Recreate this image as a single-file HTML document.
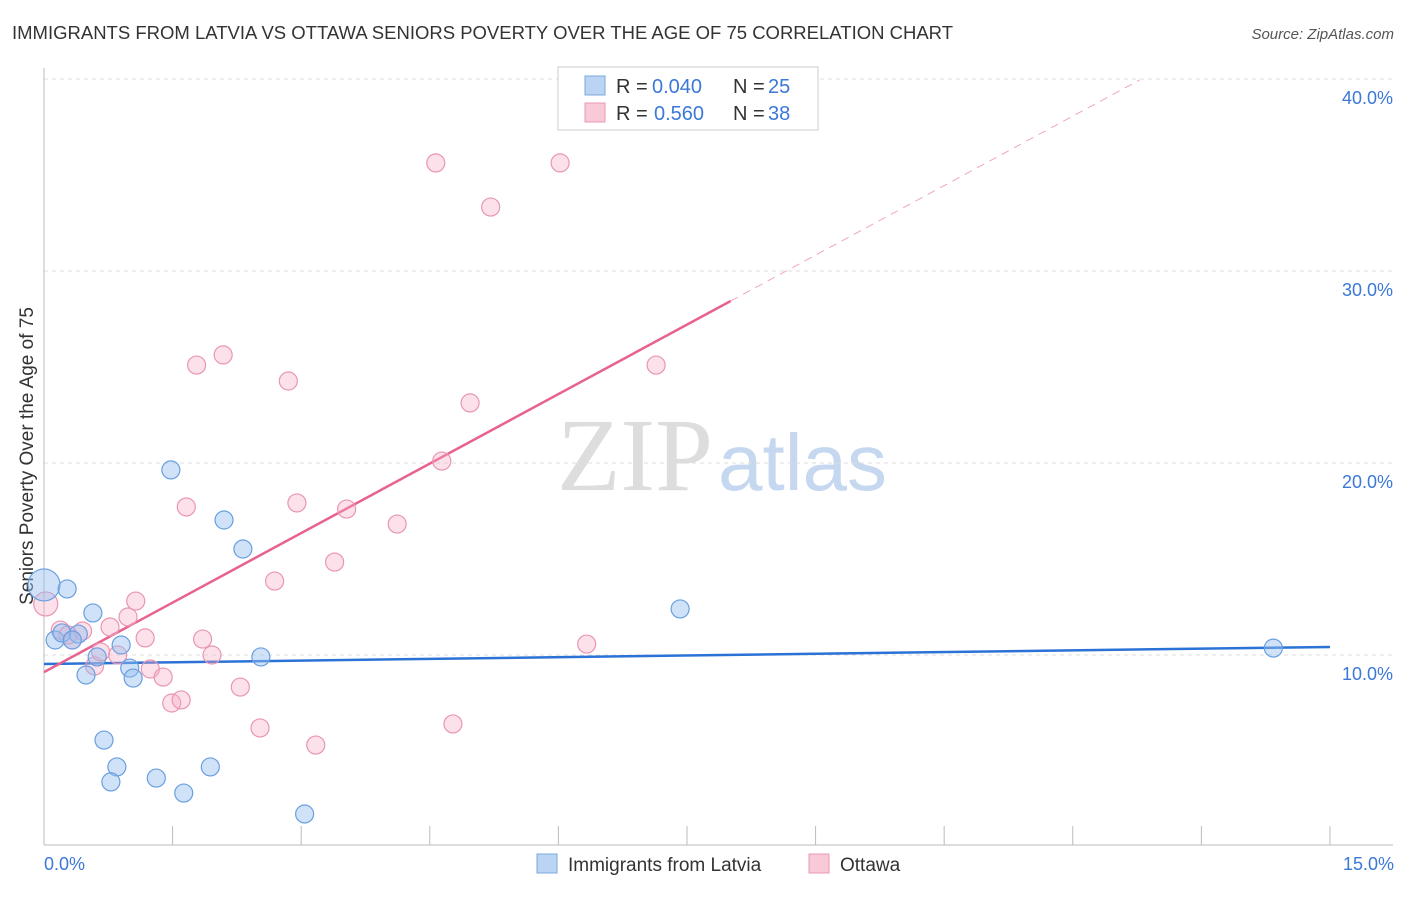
<!DOCTYPE html>
<html><head><meta charset="utf-8"><style>
body{margin:0;background:#fff;font-family:"Liberation Sans",sans-serif}
</style></head><body>
<svg id="chart" width="1406" height="892" xmlns="http://www.w3.org/2000/svg" font-family="Liberation Sans, sans-serif">
<text x="12" y="39" font-size="18" fill="#333" textLength="941" lengthAdjust="spacingAndGlyphs">IMMIGRANTS FROM LATVIA VS OTTAWA SENIORS POVERTY OVER THE AGE OF 75 CORRELATION CHART</text>
<text x="1394" y="39" font-size="15" fill="#555" text-anchor="end" font-style="italic">Source: ZipAtlas.com</text>
<text x="33" y="456" font-size="19" fill="#333" text-anchor="middle" transform="rotate(-90 33 456)">Seniors Poverty Over the Age of 75</text>
<g>
<text x="713" y="490" font-size="104" fill="#ddd" text-anchor="end" font-family="Liberation Serif, serif">ZIP</text>
<text x="718" y="490" font-size="80" fill="#c5d8f0">atlas</text>
</g>
<g id="grid"></g><g id="axes"></g><g id="lines"></g><g id="pts"></g>
<g>
<rect x="558" y="67" width="260" height="63" fill="#fff" stroke="#ccc"/>
<rect x="585" y="76" width="20" height="19" fill="#bcd4f4" stroke="#7aa8e0"/>
<rect x="585" y="103" width="20" height="19" fill="#f9c9d8" stroke="#eb98b4"/>
<text y="93" font-size="20" fill="#333"><tspan x="616">R =</tspan><tspan x="652" fill="#3b78d8">0.040</tspan><tspan x="733">N =</tspan><tspan x="768" fill="#3b78d8">25</tspan></text>
<text y="120" font-size="20" fill="#333"><tspan x="616">R =</tspan><tspan x="654" fill="#3b78d8">0.560</tspan><tspan x="733">N =</tspan><tspan x="768" fill="#3b78d8">38</tspan></text>
</g>
<g>
<rect x="537" y="854" width="20" height="19" fill="#bcd4f4" stroke="#7aa8e0"/>
<text x="568" y="871" font-size="19" fill="#333">Immigrants from Latvia</text>
<rect x="809" y="854" width="20" height="19" fill="#f9c9d8" stroke="#eb98b4"/>
<text x="840" y="871" font-size="19" fill="#333">Ottawa</text>
</g>
</svg>
<script>
const blueX=[0.00,0.27,0.13,0.21,0.40,0.57,0.62,0.49,0.90,1.00,1.04,0.70,0.85,0.78,1.31,1.63,1.94,1.48,2.10,2.32,2.53,3.04,7.42,14.34,0.33];
const blueY=[13.65,13.44,10.78,11.15,11.09,12.19,9.90,8.96,10.52,9.32,8.80,5.57,4.17,3.39,3.59,2.81,4.17,19.64,17.03,15.52,9.90,1.72,12.40,10.36,10.78];
const pinkX=[0.02,0.19,0.33,0.45,0.59,0.66,0.77,0.86,0.98,1.07,1.18,1.24,1.39,1.49,1.60,1.66,1.78,1.85,1.96,2.09,2.29,2.52,2.69,2.85,2.95,3.17,3.39,3.53,4.12,4.57,4.64,4.77,4.97,5.21,6.02,6.33,7.14,0.28];
const pinkY=[12.66,11.30,10.78,11.25,9.43,10.16,11.46,10.00,11.98,12.81,10.89,9.27,8.85,7.50,7.66,17.71,25.10,10.83,10.00,25.63,8.33,6.20,13.85,24.27,17.92,5.31,14.84,17.60,16.82,35.63,20.10,6.41,23.13,33.33,35.63,10.57,25.10,11.04];
const yTicks=[10,20,30,40];
const yTickLabels=["10.0%","20.0%","30.0%","40.0%"];
const xTicks=[0,1.5,3,4.5,6,7.5,9,10.5,12,13.5,15];
const blueTrend=[9.53,0.0593];
const pinkTrend=[9.11,2.413];
const sx=v=>44+v*85.73, sy=v=>847-v*19.2;
const NS="http://www.w3.org/2000/svg";
function mk(p,t,a){const e=document.createElementNS(NS,t);for(const k in a)e.setAttribute(k,a[k]);document.getElementById(p).appendChild(e);return e;}
yTicks.forEach((v,i)=>{
 const l=mk('grid','line',{x1:44,x2:1393,y1:sy(v),y2:sy(v),stroke:'#ddd','stroke-dasharray':'4,4'});
 
 
 const t=mk('grid','text',{x:1393,y:sy(v)+25,'text-anchor':'end','font-size':18,fill:'#3b78d8'});
 t.textContent=yTickLabels[i];
 
 
});
const ax=mk('axes','line',{x1:44,x2:1393,y1:845,y2:845,stroke:'#bbb'});


const ay=mk('axes','line',{x1:44,x2:44,y1:68,y2:845,stroke:'#bbb'});


xTicks.forEach(v=>{const t=mk('axes','line',{x1:sx(v),x2:sx(v),y1:826,y2:845,stroke:'#bbb'});
 
 });
[[0,'0.0%','start',44],[15,'15.0%','end',1394]].forEach(([v,s,a,x])=>{const t=mk('axes','text',{x:x,y:870,'text-anchor':a,'font-size':18,fill:'#3b78d8'});t.textContent=s;
 
 });
function pts(X,Y,fill,stroke,name,bigR){X.forEach((x,i)=>{const c=mk('pts','circle',{cx:sx(x),cy:sy(Y[i]),r:(i===0?bigR:9),fill:fill,stroke:stroke,'stroke-width':1.2});
 
 });}
pts(pinkX,pinkY,'rgba(245,170,195,0.35)','#e995b3','ottawa-point',12);
pts(blueX,blueY,'rgba(150,190,240,0.45)','#6a9fe0','latvia-point',16);
const bl=mk('lines','line',{x1:sx(0),y1:sy(blueTrend[0]),x2:sx(15),y2:sy(blueTrend[0]+15*blueTrend[1]),stroke:'#2a72d6','stroke-width':2.5});


const pl=mk('lines','line',{x1:sx(0),y1:sy(pinkTrend[0]),x2:sx(8.01),y2:sy(pinkTrend[0]+8.01*pinkTrend[1]),stroke:'#e8628f','stroke-width':2.5});


const pd=mk('lines','line',{x1:sx(8.01),y1:sy(pinkTrend[0]+8.01*pinkTrend[1]),x2:sx(12.78),y2:sy(pinkTrend[0]+12.78*pinkTrend[1]),stroke:'#f0a6bf','stroke-width':1,'stroke-dasharray':'8,6'});


</script>
</body></html>
